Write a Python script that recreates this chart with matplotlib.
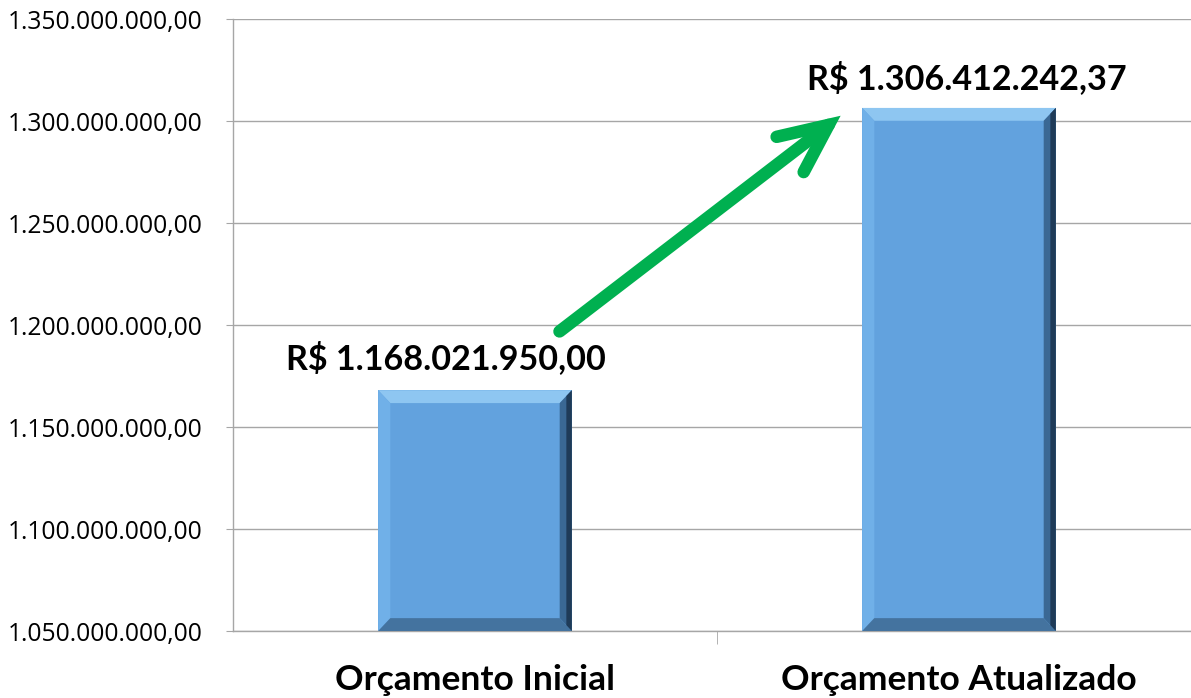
import matplotlib

matplotlib.use("Agg")
import matplotlib.pyplot as plt
from matplotlib.patches import Polygon
from matplotlib.ticker import FuncFormatter

categories = ["Orçamento Inicial", "Orçamento Atualizado"]
values = [1168021950.00, 1306412242.37]
value_labels = ["R$ 1.168.021.950,00", "R$ 1.306.412.242,37"]

y_min, y_max, y_step = 1050000000, 1350000000, 50000000

BAR_COLOR = "#62A2DE"
ARROW_GREEN = "#00B050"
GRID_GRAY = "#A6A6A6"
FONT = ["Lato", "DejaVu Sans"]


def br_format(v, _pos=None):
    s = f"{v:,.2f}"
    return s.replace(",", "X").replace(".", ",").replace("X", ".")


def bevel(ax, x, w, top, base, dx, dy):
    """Draw the Excel-style bevel on one bar."""
    l, r = x - w / 2, x + w / 2
    faces = [
        ([(l, top), (r, top), (r - dx, top - dy), (l + dx, top - dy)], "#8EC6F1"),
        ([(l, base), (l, top), (l + dx, top - dy), (l + dx, base + dy)], "#70B0E8"),
        ([(r, base), (r, top), (r - dx, top - dy), (r - dx, base + dy)], "#3A6894"),
        ([(l, base), (r, base), (r - dx, base + dy), (l + dx, base + dy)], "#44739F"),
    ]
    for pts, c in faces:
        ax.add_patch(Polygon(pts, closed=True, facecolor=c, edgecolor="none", zorder=3))
    # darker outer strip on the right edge
    ax.add_patch(Polygon([(r, base), (r, top), (r - dx * 0.45, top - dy * 0.45),
                          (r - dx * 0.45, base + dy * 0.45)], closed=True,
                         facecolor="#1F3B58", edgecolor="none", zorder=3))


fig = plt.figure(figsize=(11.91, 6.98), dpi=100)
ax = fig.add_axes([233 / 1191, 1 - 631 / 698, 968 / 1191, (631 - 19) / 698])

x = list(range(len(categories)))
bar_w = 0.4
ax.bar(x, [v - y_min for v in values], bottom=y_min, width=bar_w,
       color=BAR_COLOR, zorder=2)
for xi, v in zip(x, values):
    bevel(ax, xi, bar_w, v, y_min, 0.025, 6.3e6)

ax.set_xlim(-0.5, 1.5)
ax.set_ylim(y_min, y_max)
ax.set_yticks(range(y_min, y_max + 1, y_step))
ax.yaxis.set_major_formatter(FuncFormatter(br_format))
ax.grid(axis="y", color=GRID_GRAY, linewidth=1, zorder=0)

for side in ["top", "right"]:
    ax.spines[side].set_visible(False)
for side in ["left", "bottom"]:
    ax.spines[side].set_color(GRID_GRAY)
    ax.spines[side].set_linewidth(1)

ax.tick_params(axis="y", length=5, color=GRID_GRAY, pad=17, labelsize=17.7)
for t in ax.get_yticklabels():
    t.set_family(["Open Sans", "DejaVu Sans"])
ax.set_xticks(x)
ax.set_xticklabels(categories, fontsize=25.5, fontweight="bold", family=FONT)
ax.tick_params(axis="x", length=0, pad=24)
ax.set_xticks([0.5], minor=True)
ax.tick_params(axis="x", which="minor", length=9, color=GRID_GRAY)

# value labels above the bars
ax.text(x[0] - 0.06, values[0] + 16e6, value_labels[0], ha="center", va="center",
        fontsize=24.6, fontweight="bold", family=FONT, zorder=5)
ax.text(x[1] + 0.016, values[1] + 14.5e6, value_labels[1], ha="center", va="center",
        fontsize=24.6, fontweight="bold", family=FONT, zorder=5)

# green growth arrow
ax.annotate("", xy=(x[1] - 0.24, values[1] - 3e6), xytext=(x[0] + 0.17, values[0] + 28e6),
            arrowprops=dict(arrowstyle="->,head_length=1.75,head_width=0.8",
                            mutation_scale=20, color=ARROW_GREEN, linewidth=9,
                            capstyle="round", joinstyle="miter"),
            zorder=6)

fig.savefig("out.png", dpi=100)
